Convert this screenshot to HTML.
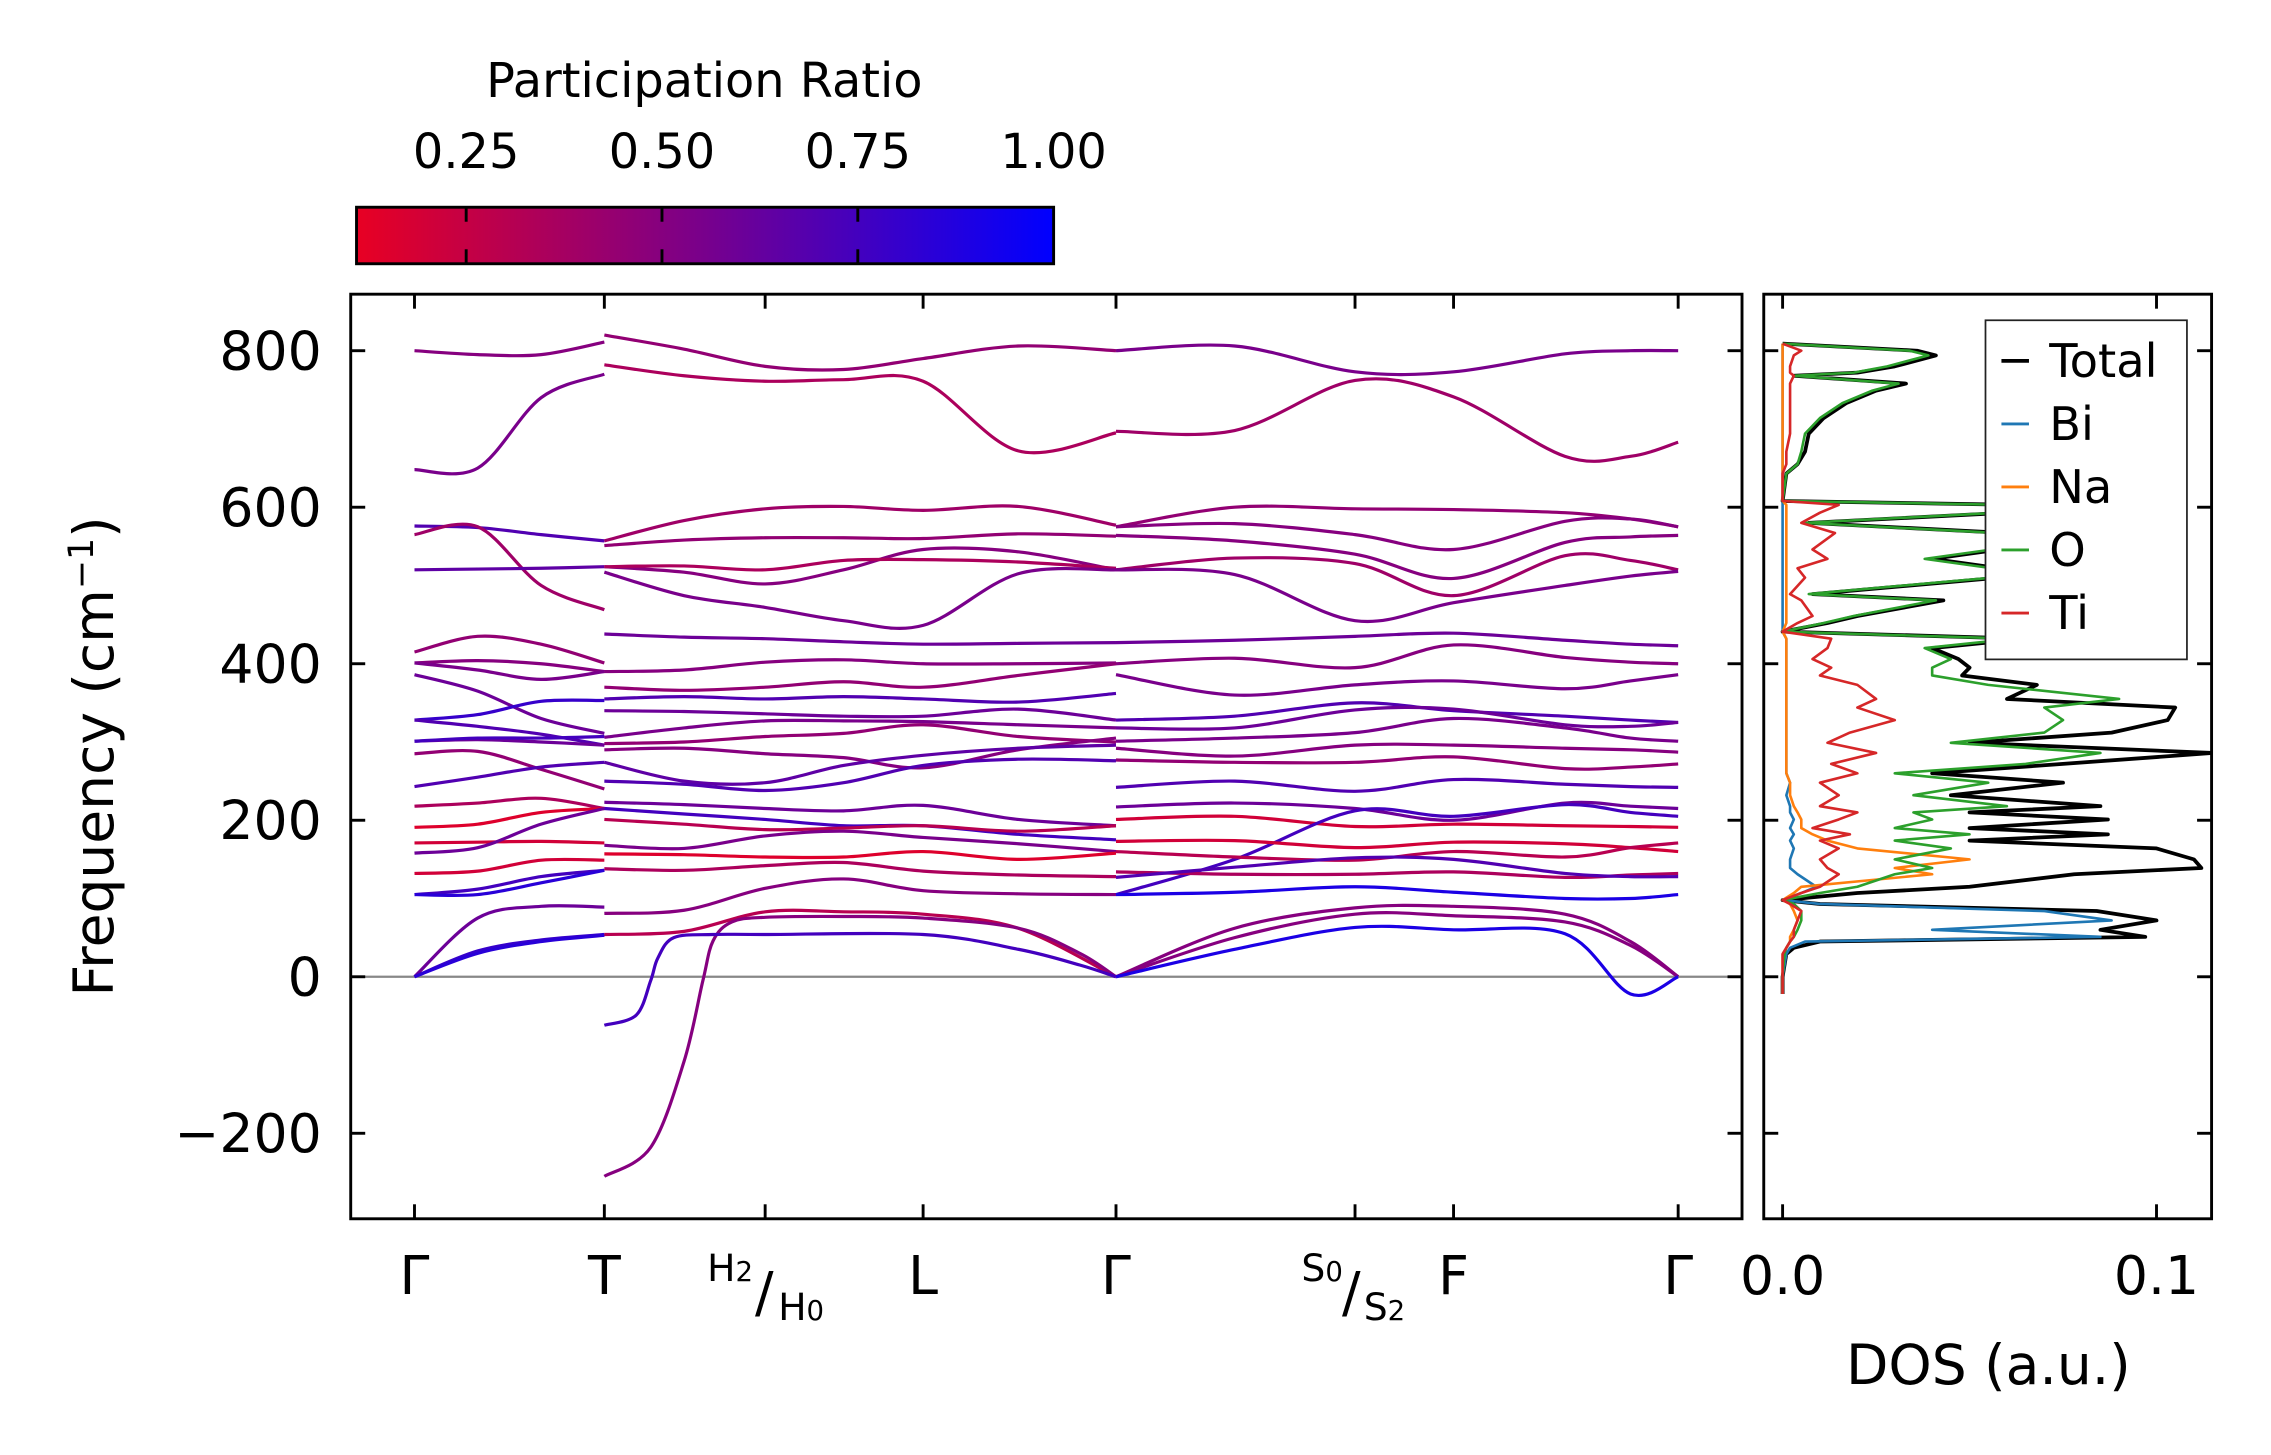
<!DOCTYPE html>
<html><head><meta charset="utf-8">
<style>
html,body{margin:0;padding:0;background:#fff;}
svg{display:block;}
text{font-family:"DejaVu Sans","Liberation Sans",sans-serif;fill:#000;}
</style></head>
<body>
<svg id="fig" width="2271" height="1455" viewBox="0 0 1567 1004" preserveAspectRatio="none" xmlns="http://www.w3.org/2000/svg">
<defs>
<linearGradient id="cmap" x1="0" x2="1" y1="0" y2="0">
<stop offset="0" stop-color="rgb(232,0,35)"/><stop offset="0.5" stop-color="rgb(120,0,140)"/><stop offset="1" stop-color="rgb(0,0,255)"/>
</linearGradient>
<clipPath id="clipMain"><rect x="242" y="203" width="960" height="638"/></clipPath>
<clipPath id="clipDos"><rect x="1217" y="203" width="309" height="638"/></clipPath>
</defs>
<g>
<text x="486" y="67" font-size="33" text-anchor="middle">Participation Ratio</text>
<rect x="246" y="143" width="481" height="39" fill="url(#cmap)" stroke="#000" stroke-width="2"/>
<g id="cbTicks"></g>
</g>
<g id="main">
<line x1="242" x2="1202" y1="674" y2="674" stroke="#888" stroke-width="1.5"/>
<g id="bands" clip-path="url(#clipMain)"></g>
<rect x="242" y="203" width="960" height="638" fill="none" stroke="#000" stroke-width="2"/>
<g id="mainTicks"></g>
<text transform="translate(78,522) rotate(-90)" font-size="38" text-anchor="middle">Frequency (cm<tspan font-size="24" dy="-14">−1</tspan><tspan dy="14">)</tspan></text>
</g>
<g id="dos">
<g id="dosLines" clip-path="url(#clipDos)"></g>
<rect x="1217" y="203" width="309" height="638" fill="none" stroke="#000" stroke-width="2"/>
<g id="dosTicks"></g>
<text x="1372" y="955" font-size="38" text-anchor="middle">DOS (a.u.)</text>
<g id="legend">
<rect x="1370" y="221" width="139" height="234" fill="#fff" stroke="#222" stroke-width="1.2"/>
</g>
</g>
</svg>
<script>
// ---- band structure data ----
const kTicks = [0, 1.0, 1.847, 2.679, 3.695, 4.954, 5.473, 6.656];
const qA = [0, 0.333, 0.667, 1.0];
const qB = [1.0, 1.42, 1.847, 2.26, 2.679, 3.18, 3.695];
const qC = [3.695, 4.32, 4.954, 5.473, 6.06, 6.405, 6.656];
const bandsA = [
[800,795,795,811],[648,650,740,770],[576,574,565,557],[565,575,500,469],[520,521,522,524],
[415,435,425,401],[401,404,400,390],[401,392,380,390],[386,365,330,311],[328,335,352,353],
[328,320,310,296],[301,303,300,296],[301,305,305,307],[285,288,265,240],[243,255,268,274],
[218,222,228,215],[191,195,210,215],[171,172,173,171],[158,165,195,215],[132,135,149,149],
[105,112,128,136],[105,105,120,136],[0,75,90,89],[0,33,47,54],[0,30,45,53]];
const prA = [0.5,0.55,0.7,0.4,0.65,0.45,0.5,0.55,0.6,0.8,0.7,0.6,0.75,0.45,0.7,0.35,0.15,0.2,0.6,0.2,0.75,0.85,0.6,0.8,0.85];
const bandsB = [
[820,802,780,776,790,806,800],[782,768,761,763,761,672,695],[557,583,598,601,596,601,577],
[551,558,561,561,560,566,563],[524,517,502,520,546,543,520],[524,525,520,532,533,530,522],
[517,487,472,455,449,515,520],[438,434,432,428,425,426,427],[390,392,402,405,400,400,401],
[370,366,370,377,370,385,400],[355,358,355,358,355,351,362],[340,339,336,333,333,342,328],
[306,318,327,327,326,322,318],[298,300,307,311,322,307,300],[290,292,285,280,267,290,305],
[274,250,248,270,283,292,296],[250,246,238,248,270,278,276],[223,220,215,212,219,201,193],
[215,208,201,193,193,182,175],[201,195,188,190,193,186,193],[168,164,180,186,178,170,160],
[157,156,153,153,160,150,158],[138,136,142,146,135,130,128],[81,85,113,125,110,106,105],
[54,58,83,83,80,62,0]];
const prB = [0.45,0.35,0.4,0.45,0.5,0.35,0.55,0.6,0.5,0.45,0.7,0.6,0.55,0.45,0.5,0.65,0.7,0.6,0.75,0.3,0.55,0.15,0.35,0.5,0.3];
const softQ1 = [1.0,1.244,1.420,1.519,1.573,1.672,1.847,2.260,2.679,3.183,3.504,3.695];
const softF1 = [-255,-218,-108,-5,46,70,76,77,75,62,30,0];
const softQ2 = [1.0,1.168,1.244,1.282,1.366,1.573,1.847,2.679,3.183,3.504,3.695];
const softF2 = [-62,-49,-5,24,50,54,54,54,35,15,0];
const prSoft = [0.5, 0.75];
const bandsC = [
[800,806,773,773,796,800,800],[697,698,762,741,665,665,683],[575,600,598,597,593,585,575],
[575,579,565,546,582,585,575],[564,557,540,509,555,562,564],[520,535,528,487,538,532,520],
[520,514,455,478,500,512,518],[427,430,435,439,430,425,423],[400,407,395,424,408,402,400],
[386,360,373,378,368,378,386],[328,333,350,340,333,328,325],[318,318,341,342,322,320,325],
[301,305,312,330,318,305,301],[292,282,296,296,292,290,287],[277,274,274,281,266,268,272],
[242,250,237,252,246,243,242],[217,222,215,200,222,218,215],[201,205,192,195,193,192,191],
[105,150,212,205,220,210,205],[173,174,165,172,170,165,160],[160,153,149,160,153,165,171],
[134,131,131,134,127,130,132],[127,140,152,150,132,128,128],[105,108,115,108,100,100,105],
[0,62,88,90,80,45,0],[0,50,80,78,70,40,0],[0,35,63,60,55,-22,0]];
const prC = [0.55,0.4,0.45,0.5,0.5,0.4,0.55,0.6,0.5,0.55,0.7,0.6,0.55,0.5,0.45,0.7,0.6,0.2,0.75,0.2,0.3,0.35,0.7,0.9,0.5,0.5,0.9];
const kLabels = ["Γ","T","H","L","Γ","S","F","Γ"];
const yTicks = [-200,0,200,400,600,800];
const cbTicks = [0.25,0.5,0.75,1.0];
const cbLabels = ["0.25","0.50","0.75","1.00"];
// ---- DOS data ----
const dosFreq = [-22,0,29,37,45,51,60,72,84,93,98,107,115,131,139,150,164,174,182,190,201,210,218,232,248,260,272,286,299,312,328,344,355,373,385,395,406,420,432,441,452,461,481,489,510,522,534,546,567,580,593,603,608,643,655,671,694,714,733,749,758,768,772,780,794,800,809];
const dosTotal = [0,0,0.001,0.003,0.01,0.097,0.085,0.1,0.084,0.01,0.0,0.02,0.05,0.078,0.112,0.11,0.1,0.05,0.087,0.05,0.087,0.05,0.085,0.045,0.075,0.04,0.075,0.115,0.05,0.088,0.103,0.105,0.06,0.068,0.048,0.05,0.047,0.04,0.065,0.0,0.012,0.02,0.043,0.008,0.058,0.058,0.04,0.058,0.06,0.007,0.06,0.063,0.0,0.001,0.004,0.006,0.007,0.011,0.017,0.025,0.033,0.003,0.02,0.03,0.041,0.036,0.0];
const dosO = [0,0,0.0005,0.001,0.002,0.003,0.004,0.005,0.005,0.003,0.0,0.01,0.02,0.03,0.04,0.03,0.045,0.03,0.05,0.03,0.04,0.035,0.06,0.035,0.055,0.03,0.065,0.085,0.045,0.07,0.075,0.07,0.09,0.055,0.04,0.04,0.045,0.038,0.062,0.0,0.011,0.019,0.041,0.007,0.056,0.056,0.038,0.056,0.058,0.006,0.058,0.06,0.0,0.001,0.004,0.005,0.006,0.01,0.016,0.024,0.031,0.003,0.019,0.028,0.039,0.034,0.0];
const dosTi = [0,0,0,0.001,0.002,0.003,0.003,0.004,0.005,0.002,0.0,0.005,0.01,0.015,0.012,0.01,0.015,0.01,0.018,0.008,0.015,0.02,0.01,0.015,0.01,0.02,0.013,0.025,0.012,0.018,0.03,0.02,0.025,0.02,0.01,0.013,0.008,0.012,0.013,0.0,0.004,0.008,0.005,0.002,0.006,0.004,0.012,0.008,0.014,0.005,0.01,0.015,0.0,0.0,0.001,0.001,0.002,0.002,0.002,0.002,0.002,0.003,0.002,0.002,0.003,0.005,0.0];
const dosNa = [0,0,0,0.001,0.002,0.002,0.003,0.004,0.003,0.002,0.0,0.003,0.005,0.04,0.03,0.05,0.02,0.012,0.008,0.005,0.005,0.004,0.003,0.002,0.002,0.001,0.001,0.001,0.001,0.001,0.001,0.001,0.001,0.001,0.001,0.001,0.001,0.001,0.001,0.0,0.001,0.001,0.001,0.001,0.001,0.001,0.001,0.001,0.001,0.001,0.001,0.001,0.0,0,0,0,0,0,0,0,0,0,0,0,0,0,0];
const dosBi = [0,0,0.001,0.002,0.006,0.085,0.04,0.088,0.07,0.01,0.0,0.005,0.009,0.004,0.002,0.002,0.003,0.002,0.003,0.002,0.003,0.002,0.002,0.001,0.002,0.001,0.001,0.001,0.001,0.001,0.001,0.001,0.001,0.001,0.001,0.001,0.001,0.001,0.001,0,0,0,0,0,0,0,0,0,0,0,0,0,0,0,0,0,0,0,0,0,0,0,0,0,0,0,0];
const dosNames = ["Total","Bi","Na","O","Ti"];
const dosColors = ["#000000","#1f77b4","#ff7f0e","#2ca02c","#d62728"];
const dosXTicks = [0.0, 0.1];
const dosXLabels = ["0.0","0.1"];

// ---- scales ----
const NS = "http://www.w3.org/2000/svg";
function xK(q){ return 286 + q*131; }
function yF(f){ return 674 - f*0.54; }
function xD(v){ return 1230 + v*2580; }
function xCb(p){ return 246 + (p-0.11)/0.89*481; }
function prColor(p){
  let t=(p-0.11)/0.89; t=Math.max(0,Math.min(1,t));
  let r,b;
  if(t<0.5){ const s=t/0.5; r=232+(120-232)*s; b=35+(140-35)*s; }
  else { const s=(t-0.5)/0.5; r=120*(1-s); b=140+115*s; }
  return "rgb("+Math.round(r)+",0,"+Math.round(b)+")";
}
function smoothPath(xs, ys){
  let d="M"+xs[0].toFixed(2)+","+ys[0].toFixed(2);
  for(let i=0;i<xs.length-1;i++){
    const x0=xs[Math.max(0,i-1)], y0=ys[Math.max(0,i-1)];
    const x1=xs[i], y1=ys[i], x2=xs[i+1], y2=ys[i+1];
    const x3=xs[Math.min(xs.length-1,i+2)], y3=ys[Math.min(xs.length-1,i+2)];
    const c1x=x1+(x2-x0)/6, c1y=y1+(y2-y0)/6, c2x=x2-(x3-x1)/6, c2y=y2-(y3-y1)/6;
    d+=" C"+c1x.toFixed(2)+","+c1y.toFixed(2)+" "+c2x.toFixed(2)+","+c2y.toFixed(2)+" "+x2.toFixed(2)+","+y2.toFixed(2);
  }
  return d;
}
const bandsG = document.getElementById("bands");
function drawBand(q, f, pr, name){
  const p=document.createElementNS(NS,"path");
  p.setAttribute("d", smoothPath(q.map(xK), f.map(yF)));
  p.setAttribute("fill","none");
  p.setAttribute("stroke", prColor(pr));
  p.setAttribute("stroke-width","2.2");
  
  
  bandsG.appendChild(p);
}
bandsA.forEach((f,i)=>drawBand(qA,f,prA[i],"band-gamma-t-"+i));
bandsB.forEach((f,i)=>drawBand(qB,f,prB[i],"band-t-gamma-"+i));
drawBand(softQ1, softF1, prSoft[0], "soft-band-1");
drawBand(softQ2, softF2, prSoft[1], "soft-band-2");
bandsC.forEach((f,i)=>drawBand(qC,f,prC[i],"band-gamma-gamma-"+i));

function mk(tag, attrs, parent, txt){
  const e=document.createElementNS(NS,tag);
  for(const k in attrs) e.setAttribute(k, attrs[k]);
  if(txt!==undefined) e.textContent=txt;
  parent.appendChild(e); return e;
}
// main ticks
const mt=document.getElementById("mainTicks");
kTicks.forEach((k,i)=>{
  const x=xK(k);
  const t1=mk("line",{x1:x,x2:x,y1:203,y2:213,stroke:"#000","stroke-width":2},mt);
  
  
  const t2=mk("line",{x1:x,x2:x,y1:831,y2:841,stroke:"#000","stroke-width":2},mt);
  
  
  if(kLabels[i]==="H"){
    const g=mk("text",{x:x,y:893,"font-size":26},mt);
    
    
    mk("tspan",{x:x-40,y:884},g,"H");
    mk("tspan",{"font-size":19,dy:0},g,"2");
    mk("tspan",{x:x-7,y:905,"font-size":38},g,"/");
    mk("tspan",{x:x+9,y:911},g,"H");
    mk("tspan",{"font-size":19,dy:0},g,"0");
  } else if(kLabels[i]==="S"){
    const g=mk("text",{x:x,y:893,"font-size":26},mt);
    
    
    mk("tspan",{x:x-37,y:884},g,"S");
    mk("tspan",{"font-size":19,dy:0},g,"0");
    mk("tspan",{x:x-9,y:905,"font-size":38},g,"/");
    mk("tspan",{x:x+6,y:911},g,"S");
    mk("tspan",{"font-size":19,dy:0},g,"2");
  } else {
    const l=mk("text",{x:x,y:893,"font-size":37,"text-anchor":"middle"},mt,kLabels[i]);
    
    
  }
});
yTicks.forEach(v=>{
  const y=yF(v);
  const a=mk("line",{x1:242,x2:252,y1:y,y2:y,stroke:"#000","stroke-width":2},mt);
  
  
  const b=mk("line",{x1:1192,x2:1202,y1:y,y2:y,stroke:"#000","stroke-width":2},mt);
  
  
  const l=mk("text",{x:222,y:y+13,"font-size":37,"text-anchor":"end"},mt,v<0?"−"+Math.abs(v):String(v));
  
  
});
// colorbar ticks
const cb=document.getElementById("cbTicks");
cbTicks.forEach((p,i)=>{
  const x=xCb(p);
  if(p<1){
    const a=mk("line",{x1:x,x2:x,y1:143,y2:153,stroke:"#000","stroke-width":2},cb);
    
    
    const b=mk("line",{x1:x,x2:x,y1:172,y2:182,stroke:"#000","stroke-width":2},cb);
    
    
  }
  const l=mk("text",{x:x,y:116,"font-size":33,"text-anchor":"middle"},cb,cbLabels[i]);
  
  
});
// DOS
const dl=document.getElementById("dosLines");
const dosSeries=[dosTotal,dosBi,dosNa,dosO,dosTi];
dosSeries.forEach((vals,si)=>{
  const pts=vals.map((v,i)=>xD(v).toFixed(2)+","+yF(dosFreq[i]).toFixed(2)).join(" ");
  const pl=mk("polyline",{points:pts,fill:"none",stroke:dosColors[si],"stroke-width":si===0?2.6:1.8,"stroke-linejoin":"round"},dl);
  
  
});
const dt=document.getElementById("dosTicks");
dosXTicks.forEach((v,i)=>{
  const x=xD(v);
  const a=mk("line",{x1:x,x2:x,y1:203,y2:213,stroke:"#000","stroke-width":2},dt);
  
  
  const b=mk("line",{x1:x,x2:x,y1:831,y2:841,stroke:"#000","stroke-width":2},dt);
  
  
  const l=mk("text",{x:x,y:893,"font-size":37,"text-anchor":"middle"},dt,dosXLabels[i]);
  
  
});
yTicks.forEach(v=>{
  const y=yF(v);
  const a=mk("line",{x1:1217,x2:1227,y1:y,y2:y,stroke:"#000","stroke-width":2},dt);
  
  
  const b=mk("line",{x1:1516,x2:1526,y1:y,y2:y,stroke:"#000","stroke-width":2},dt);
  
  
});
// legend
const lg=document.getElementById("legend");
dosNames.forEach((n,i)=>{
  const y=249+i*43.5;
  const a=mk("line",{x1:1381,x2:1400,y1:y,y2:y,stroke:dosColors[i],"stroke-width":i===0?2.6:2},lg);
  
  
  const t=mk("text",{x:1414,y:y+11,"font-size":32},lg,n);
  
  
});
</script>
</body></html>
